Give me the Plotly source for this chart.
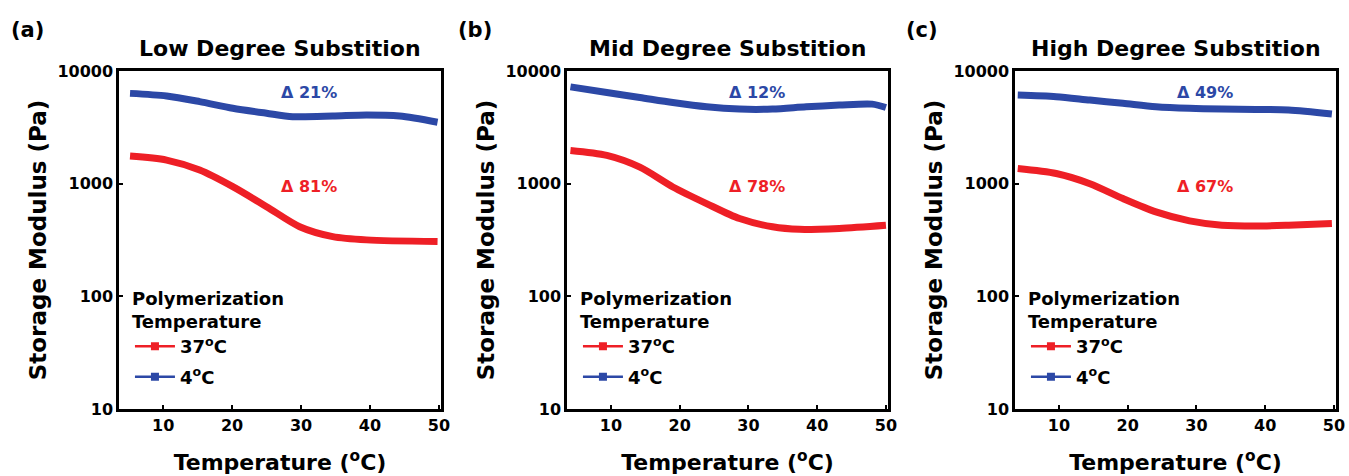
import plotly.graph_objects as go

# ---- data ----
temp_a_4 = [5.2, 10.5, 15.3, 20.1, 25.0, 28.8, 34.6, 39.5, 44.3, 49.8]
mod_a_4 = [6330, 6000, 5350, 4670, 4220, 3935, 3980, 4070, 3980, 3510]
temp_a_37 = [5.2, 10.5, 15.3, 20.1, 25.0, 29.8, 34.6, 39.5, 49.8]
mod_a_37 = [1760, 1620, 1320, 940, 625, 415, 339, 317, 306]

temp_b_4 = [4.1, 9.4, 14.2, 19.0, 23.9, 28.7, 33.5, 38.4, 43.2, 48.0, 50.0]
mod_b_4 = [7230, 6440, 5820, 5250, 4810, 4590, 4590, 4810, 4980, 5080, 4740]
temp_b_37 = [4.1, 9.4, 14.2, 19.0, 23.9, 28.7, 33.5, 37.4, 43.2, 50.0]
mod_b_37 = [1970, 1780, 1400, 935, 666, 490, 414, 393, 401, 428]

temp_c_4 = [4.0, 9.6, 14.5, 19.3, 24.1, 29.0, 33.7, 38.6, 43.4, 49.7]
mod_c_4 = [6120, 5920, 5520, 5170, 4820, 4660, 4590, 4560, 4500, 4150]
temp_c_37 = [4.0, 9.6, 14.5, 19.3, 24.1, 29.0, 33.7, 38.6, 43.4, 49.7]
mod_c_37 = [1365, 1232, 1000, 738, 562, 468, 428, 421, 428, 443]

panel_titles = ["Low Degree Substition", "Mid Degree Substition", "High Degree Substition"]
panel_letters = ["(a)", "(b)", "(c)"]
delta_4 = ["\u0394 21%", "\u0394 12%", "\u0394 49%"]
delta_37 = ["\u0394 81%", "\u0394 78%", "\u0394 67%"]
series_names = ["37<sup>o</sup>C", "4<sup>o</sup>C"]
x_ticks = [10, 20, 30, 40, 50]
y_ticks = [10, 100, 1000, 10000]

RED = "#ee1f26"
BLUE = "#2c48a6"
FONT = "DejaVu Sans"

W, H = 1349, 476
ML, MR, MT, MB = 119, 13, 71, 67
PW = W - ML - MR
PH = H - MT - MB
domains = [
    [0.0, 322 / PW],
    [(567 - ML) / PW, (888 - ML) / PW],
    [(1015 - ML) / PW, 1.0],
]

panels = [
    (temp_a_37, mod_a_37, temp_a_4, mod_a_4),
    (temp_b_37, mod_b_37, temp_b_4, mod_b_4),
    (temp_c_37, mod_c_37, temp_c_4, mod_c_4),
]


def bold(size, color="black"):
    return dict(family=FONT, size=size, color=color, weight="bold")


fig = go.Figure()
annotations = []
layout_axes = {}

for i, (t37, m37, t4, m4) in enumerate(panels):
    sfx = "" if i == 0 else str(i + 1)
    xa, ya = "x" + sfx, "y" + sfx
    leg = "legend" + sfx
    for tt, mm, col in [(t37, m37, RED), (t4, m4, BLUE)]:
        fig.add_trace(go.Scatter(
            x=tt, y=mm, mode="lines", xaxis=xa, yaxis=ya,
            line=dict(color=col, width=7, shape="spline", smoothing=0.8),
            showlegend=False, hoverinfo="skip"))
    for k, (name, col) in enumerate(zip(series_names, [RED, BLUE])):
        fig.add_trace(go.Scatter(
            x=[None], y=[None], mode="lines+markers", name=name,
            xaxis=xa, yaxis=ya, legend=leg, legendgroup=f"g{i}{k}",
            line=dict(color=col, width=2.5),
            marker=dict(symbol="square", size=8, color=col)))

    d0, d1 = domains[i]
    layout_axes["xaxis" + sfx] = dict(
        domain=[d0, d1], anchor=ya, range=[3.6, 50.3],
        tickvals=x_ticks, ticks="inside", ticklen=4, tickwidth=2,
        tickcolor="black", showline=True, linecolor="black", linewidth=2.5,
        mirror=True, showgrid=False, zeroline=False, automargin=False,
        tickfont=bold(16),
        title=dict(text="Temperature (<sup>o</sup>C)", standoff=21,
                   font=bold(22)))
    layout_axes["yaxis" + sfx] = dict(
        domain=[0, 1], anchor=xa, type="log", range=[1, 4],
        tickvals=y_ticks, ticktext=[str(v) for v in y_ticks],
        ticks="inside", ticklen=4, tickwidth=2, tickcolor="black",
        showline=True, linecolor="black", linewidth=2.5, mirror=True,
        showgrid=False, zeroline=False, automargin=False,
        tickfont=bold(16),
        title=dict(text="Storage Modulus (Pa)", standoff=5, font=bold(23)))
    layout_axes[leg] = dict(
        x=d0 + 0.009, y=0.378, xanchor="left", yanchor="top",
        bgcolor="rgba(0,0,0,0)", borderwidth=0, tracegroupgap=4,
        itemwidth=40, font=bold(18),
        title=dict(text="Polymerization<br>Temperature", side="top",
                   font=bold(18)))

    # panel title and letter
    annotations.append(dict(
        text=panel_titles[i], xref="paper", yref="paper",
        x=(d0 + d1) / 2, y=1 + (MT - 48) / PH, xanchor="center",
        yanchor="middle", showarrow=False, font=bold(22)))
    letter_x_px = [27, 475, 922][i]
    annotations.append(dict(
        text=panel_letters[i], xref="paper", yref="paper",
        x=(letter_x_px - ML) / PW, y=1 + (MT - 30) / PH,
        xanchor="center", yanchor="middle", showarrow=False,
        font=bold(21)))
    # delta labels
    annotations.append(dict(
        text=delta_4[i], xref=xa, yref=ya, x=31.2, y=3.805,
        showarrow=False, font=bold(16, BLUE)))
    annotations.append(dict(
        text=delta_37[i], xref=xa, yref=ya, x=31.2, y=2.975,
        showarrow=False, font=bold(16, RED)))

fig.update_layout(
    width=W, height=H,
    margin=dict(l=ML, r=MR, t=MT, b=MB, autoexpand=False),
    paper_bgcolor="white", plot_bgcolor="white",
    annotations=annotations,
    **layout_axes)

fig.write_html(
    "out.html",
    config={"displayModeBar": False},
    post_script="document.body.style.margin='0';document.body.style.overflow='hidden';")
